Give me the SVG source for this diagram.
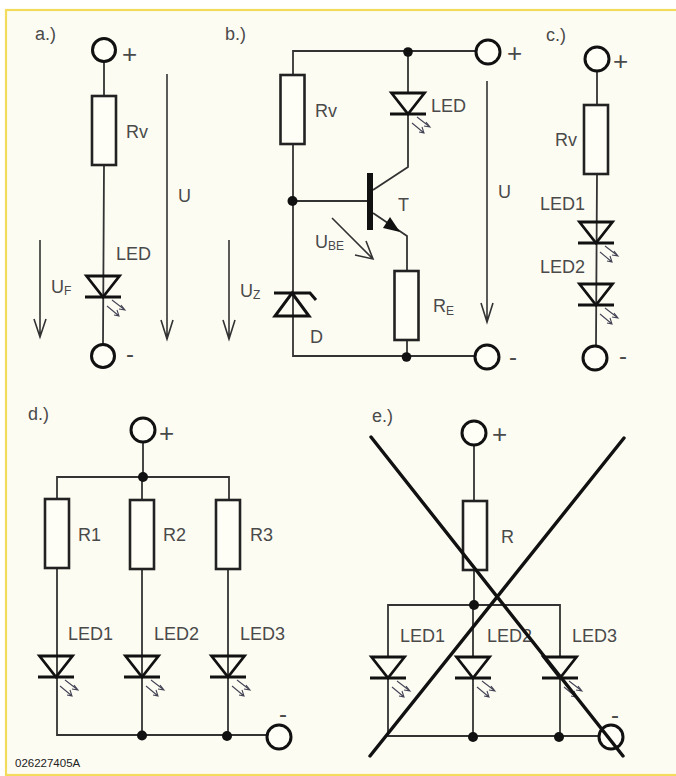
<svg xmlns="http://www.w3.org/2000/svg" width="676" height="776" viewBox="0 0 676 776">
<style>
text{font-family:"Liberation Sans",Arial,sans-serif;font-size:18px;fill:#4a4a4a}
.s{font-size:12px}
.p{font-size:26px}
.m{font-size:24px}
.code{font-size:11.5px;fill:#222}
.w{fill:none;stroke:#333;stroke-width:1.8}
.r{fill:#fffef6;stroke:#222;stroke-width:2.6}
.t{fill:#fffef6;stroke:#111;stroke-width:3}
.j{fill:#111}
.a{fill:none;stroke:#333;stroke-width:1.6}
.x{fill:none;stroke:#111;stroke-width:3.4;stroke-linecap:round}
</style>
<defs>
<g id="led">
<path d="M-16.5-21H16.5L0 0Z" fill="none" stroke="#111" stroke-width="2.8"/>
<path d="M-18 0H18" fill="none" stroke="#111" stroke-width="3"/>
<path d="M9 3L22 13M18 8L22 13L16 12M4 9L16 19M11 18L16 19L14 13" fill="none" stroke="#445" stroke-width="1.1"/>
</g>
<g id="res"><rect x="-12" y="0" width="24" height="69" class="r"/></g>
</defs>
<rect width="676" height="776" fill="#fff"/>
<rect x="6" y="10" width="676" height="765" fill="#fdfcf3" stroke="#f3dc5c" stroke-width="2.2"/>

<g id="connectors">
<path class="w" d="M104 62V96M104 165L103 344"/>
<path class="a" d="M167 74V339M161 320L167 339L173 320M40 240V337M34 319L40 337L46 319"/>
<path class="w" d="M293 74V51H476M408 52V92M408 114V167L373 190M293 144V356H475M293 201H367M373 213L407 236V270M407 340V357"/>
<path class="a" d="M487 81V322M481 303L487 322L493 303M229 240V339M223 320L229 339L235 320M332 218L373 259M355 255L373 259L366 241"/>
<path class="w" d="M597 71V105M597 174L596 346"/>
<path class="w" d="M143 442V477M57 500V477H229V500M142 477V500M57 568V735H267M142 569V735M228 569V736"/>
<path class="w" d="M474 445V501M474 570V605M388 656V605H560V656M473 605V656M388 678V736H599M473 678V737M560 678V737"/>
</g>

<g id="a"><text x="35" y="40">a.)</text>
<g id="a-plus"><circle cx="104" cy="50" r="11.5" class="t"/><text class="p" x="122" y="63">+</text></g>
<g id="a-rv"><use href="#res" x="104" y="96"/><text x="126" y="138">Rv</text></g>
<g id="a-led"><use href="#led" x="103" y="297"/><text x="116" y="260">LED</text></g>
<g id="a-minus"><circle cx="103" cy="356" r="11.5" class="t"/><text class="m" x="126" y="362">-</text></g>
<text x="178" y="202">U</text><text x="51" y="293">U<tspan class="s" dy="2">F</tspan></text>
</g>

<g id="b"><text x="225" y="40">b.)</text>
<g id="b-rv"><use href="#res" x="292.5" y="75"/><text x="315" y="117">Rv</text></g>
<g id="b-led"><use href="#led" x="408" y="114"/><text x="431" y="112">LED</text></g>
<g id="b-plus"><circle cx="488" cy="52" r="12" class="t"/><text class="p" x="507" y="62">+</text></g>
<g id="b-minus"><circle cx="487" cy="357" r="12" class="t"/><text class="m" x="509" y="365">-</text></g>
<g id="b-t"><rect x="367" y="173" width="6" height="57" fill="#111"/><path d="M383 228L390 217L400 232Z" fill="#111"/><text x="398" y="211">T</text></g>
<g id="b-re"><use href="#res" x="406.5" y="271"/><text x="433" y="312">R<tspan class="s" dy="3">E</tspan></text></g>
<g id="b-d"><path d="M292 293L309 316H275ZM274 293H310L316 300" fill="none" stroke="#111" stroke-width="3"/><text x="310" y="343">D</text></g>
<circle cx="408" cy="52" r="4.8" class="j"/><circle cx="292.5" cy="201" r="5" class="j"/><circle cx="406.5" cy="357" r="4.8" class="j"/>
<text x="498" y="198">U</text><text x="315" y="248">U<tspan class="s" dy="2">BE</tspan></text><text x="240" y="297">U<tspan class="s" dy="2">Z</tspan></text>
</g>

<g id="c"><text x="546" y="41">c.)</text>
<g id="c-plus"><circle cx="597" cy="59" r="12" class="t"/><text class="p" x="613" y="70">+</text></g>
<g id="c-rv"><use href="#res" x="596" y="105"/><text x="555" y="146">Rv</text></g>
<g id="c-led1"><use href="#led" x="596" y="243"/><text x="540" y="210">LED1</text></g>
<g id="c-led2"><use href="#led" x="596" y="305"/><text x="540" y="273">LED2</text></g>
<g id="c-minus"><circle cx="595" cy="358" r="12" class="t"/><text class="m" x="619" y="364">-</text></g>
</g>

<g id="d"><text x="28" y="420">d.)</text>
<g id="d-plus"><circle cx="143" cy="430" r="12" class="t"/><text class="p" x="159" y="442">+</text></g>
<g id="d-r1"><use href="#res" x="57" y="499"/><text x="78" y="541">R1</text></g>
<g id="d-r2"><use href="#res" x="142" y="500"/><text x="163" y="541">R2</text></g>
<g id="d-r3"><use href="#res" x="228" y="500"/><text x="250" y="541">R3</text></g>
<g id="d-led1"><use href="#led" x="56" y="677"/><text x="68" y="640">LED1</text></g>
<g id="d-led2"><use href="#led" x="142" y="677"/><text x="154" y="640">LED2</text></g>
<g id="d-led3"><use href="#led" x="228" y="677"/><text x="240" y="640">LED3</text></g>
<circle cx="143" cy="477" r="5" class="j"/><circle cx="142" cy="735.5" r="5" class="j"/><circle cx="227" cy="736" r="5" class="j"/>
<g id="d-minus"><circle cx="279" cy="737" r="12" class="t"/><text class="m" x="279" y="722">-</text></g>
<text class="code" x="15" y="767">026227405A</text>
</g>

<g id="e"><text x="372" y="422">e.)</text>
<g id="e-plus"><circle cx="474" cy="433" r="12" class="t"/><text class="p" x="492" y="443">+</text></g>
<g id="e-r"><use href="#res" x="475" y="501"/><text x="501" y="543">R</text></g>
<g id="e-led1"><use href="#led" x="388" y="678"/><text x="400" y="642">LED1</text></g>
<g id="e-led2"><use href="#led" x="473" y="678"/><text x="487" y="642">LED2</text></g>
<g id="e-led3"><use href="#led" x="560" y="678"/><text x="572" y="642">LED3</text></g>
<circle cx="474" cy="605" r="5" class="j"/><circle cx="473" cy="737" r="5" class="j"/><circle cx="559" cy="737" r="5" class="j"/>
<g id="e-minus"><circle cx="611" cy="737" r="12" class="t"/><text class="m" x="611" y="723">-</text></g>
<path class="x" d="M371 437L623 756M624 438L370 756"/>
</g>
</svg>
